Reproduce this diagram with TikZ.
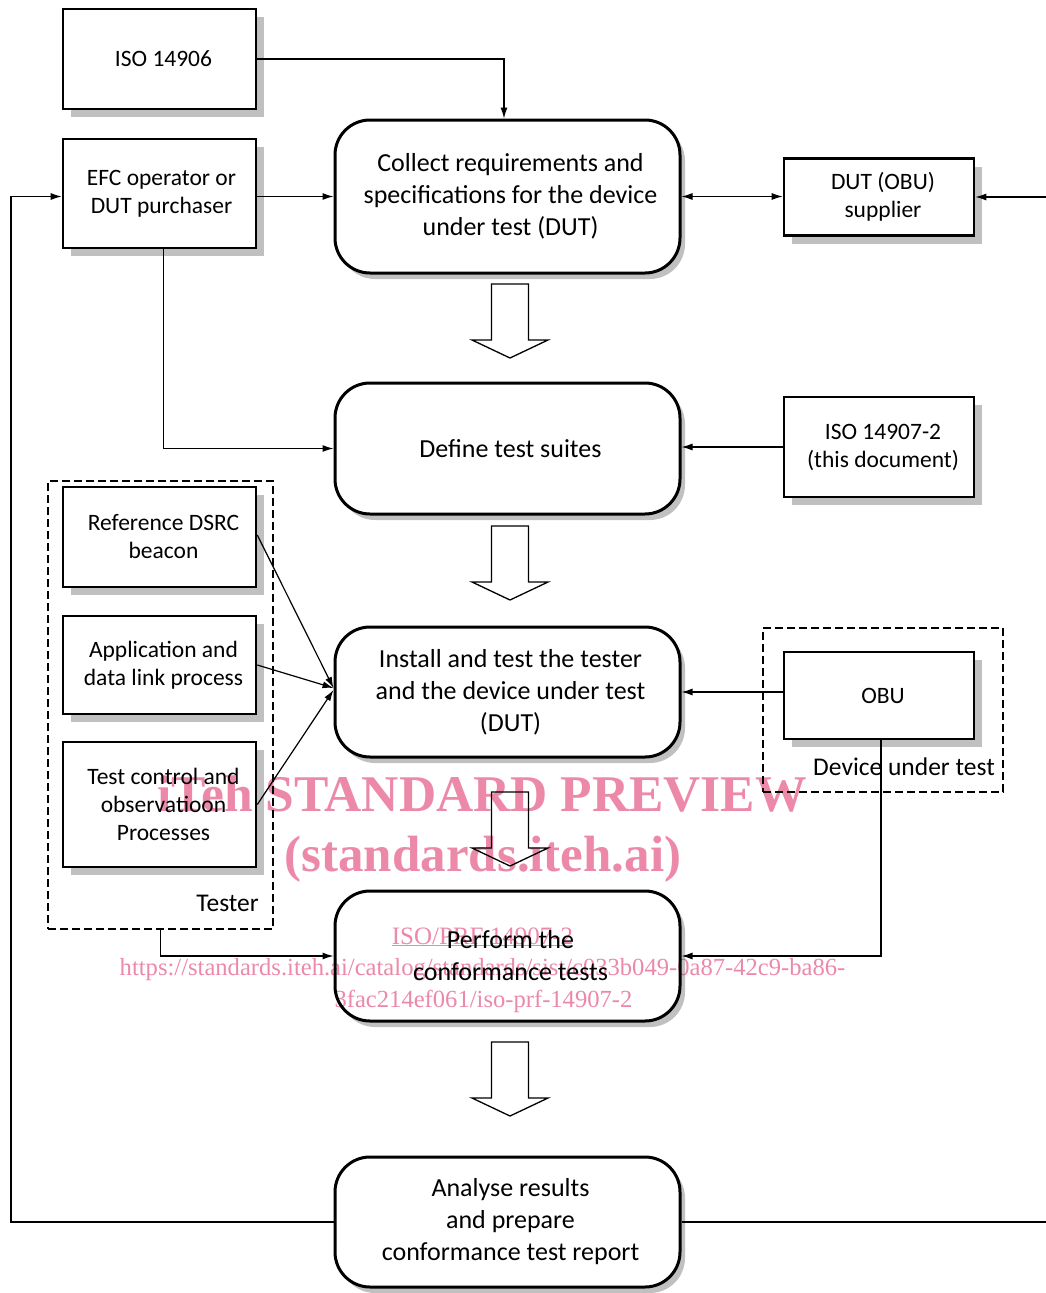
\documentclass[tikz,border=0pt]{standalone}
\usepackage{fontspec}
\setmainfont{Carlito}
\newfontfamily\wmfont{Liberation Serif}
\usetikzlibrary{arrows.meta,shadows,calc}
\definecolor{shadowgrey}{RGB}{192,192,192}
\definecolor{wmpink}{RGB}{236,137,168}
\newcommand\bigdown[1]{\draw[bigarrow] (491.5,#1) -- (528.5,#1) -- (528.5,#1+56) -- (548,#1+56) -- (510,#1+74) -- (472,#1+56) -- (491.5,#1+56) -- cycle;}
\begin{document}
\begin{tikzpicture}[x=1pt,y=-1pt,
  rbox/.style={draw, line width=2.6pt, fill=white, inner sep=0pt, align=center,
    font=\fontsize{23.5}{28}\selectfont,
    general shadow={fill=shadowgrey, shadow xshift=8pt, shadow yshift=-8pt}},
  rnd/.style={draw, line width=3pt, rounded corners=35pt, fill=white, inner sep=0pt, align=center,
    font=\fontsize{26}{32}\selectfont,
    general shadow={fill=shadowgrey, shadow xshift=5pt, shadow yshift=-6pt}},
  dashbox/.style={draw, line width=2.8pt, dash pattern=on 8pt off 4pt, inner sep=0pt},
  conn/.style={line width=1.2pt},
  arr/.style={conn, -{Latex[length=11pt,width=7pt]}},
  dblarr/.style={conn, {Latex[length=11pt,width=7pt]}-{Latex[length=11pt,width=7pt]}},
  bigarrow/.style={draw, line width=1.3pt, fill=white, line join=miter},
  lbl/.style={inner sep=0pt, font=\fontsize{25.5}{30}\selectfont},
  wm/.style={inner sep=0pt, text=wmpink}
]
\useasboundingbox (0,0) rectangle (1046,1293);

% dashed groups
\node[dashbox, minimum width=225pt, minimum height=448pt] (tester) at (160.5,705) {};
\node[dashbox, minimum width=240pt, minimum height=164pt] (dut) at (883,710) {};

% rectangular boxes
\node[rbox, minimum width=193pt, minimum height=100pt] (iso14906) at (159.5,59) {\hspace*{8pt}ISO 14906};
\node[rbox, minimum width=193pt, minimum height=109pt] (efc) at (159.5,193.5) {\hspace*{4pt}EFC operator or\\\hspace*{4pt}DUT purchaser};
\node[rbox, minimum width=190pt, minimum height=77pt] (supplier) at (879,197) {\hspace*{8pt}DUT (OBU)\\\hspace*{8pt}supplier};
\node[rbox, minimum width=190pt, minimum height=100pt] (iso149072) at (879,447) {\hspace*{8pt}ISO 14907-2\\\hspace*{8pt}(this document)};
\node[rbox, minimum width=193pt, minimum height=100pt] (refb) at (159.5,537) {\hspace*{8pt}Reference DSRC\\\hspace*{8pt}beacon};
\node[rbox, minimum width=193pt, minimum height=98pt] (app) at (159.5,665) {\hspace*{8pt}Application and\\\hspace*{8pt}data link process};
\node[rbox, minimum width=193pt, minimum height=125pt] (testc) at (159.5,804.5) {\hspace*{8pt}Test control and\\\hspace*{8pt}observatioon\\\hspace*{8pt}Processes};
\node[rbox, minimum width=190pt, minimum height=87pt] (obu) at (879,695.5) {\hspace*{8pt}OBU};

% rounded process boxes
\node[rnd, minimum width=345pt, minimum height=153pt] (collect) at (507.5,196.5) {\hspace*{6pt}Collect requirements and\\\hspace*{6pt}specifications for the device\\\hspace*{6pt}under test (DUT)};
\node[rnd, minimum width=345pt, minimum height=131pt] (define) at (507.5,448.5) {\hspace*{6pt}Define test suites};
\node[rnd, minimum width=345pt, minimum height=130pt] (install) at (507.5,692) {\hspace*{6pt}Install and test the tester\\\hspace*{6pt}and the device under test\\\hspace*{6pt}(DUT)};
\node[rnd, minimum width=345pt, minimum height=130pt] (perform) at (507.5,956) {\hspace*{6pt}Perform the\\\hspace*{6pt}conformance tests};
\node[rnd, minimum width=345pt, minimum height=130pt] (analyse) at (507.5,1222) {\hspace*{6pt}Analyse results\\\hspace*{6pt}and prepare\\\hspace*{6pt}conformance test report};

% labels
\node[lbl, anchor=east] (testerlbl) at (259,903) {Tester};
\node[lbl, anchor=east] (dutlbl) at (995,767) {Device under test};

% hollow flow arrows
\bigdown{284}
\bigdown{526}
\bigdown{792}
\bigdown{1042}

% connectors
\coordinate (rightin) at (1046,197);
\coordinate (rightout) at (1046,1222);
\coordinate (leftcorner) at (11,1222);

\draw[arr] (iso14906.east) -| ([xshift=-3.5pt]collect.north);
\draw[arr] (efc.east |- collect.west) -- (collect.west);
\draw[dblarr] (collect.east) -- (collect.east -| supplier.west);
\draw[arr] (rightin) -- (supplier.east |- rightin);
\draw[arr] ([xshift=4pt]efc.south) |- (define.west);
\draw[arr] (iso149072.west) -- (iso149072.west -| define.east);
\draw[arr] ([yshift=2pt]refb.east) -- ([yshift=4pt]install.west);
\draw[arr] (app.east) -- ([yshift=4pt]install.west);
\draw[arr] (testc.east) -- ([yshift=2pt]install.west);
\draw[arr] (obu.west |- install.east) -- (install.east);
\draw[arr] ([xshift=2pt]obu.south) |- (perform.east);
\draw[arr] (tester.south) |- (perform.west);
\draw[arr] (analyse.west) -- (leftcorner) |- ([yshift=-3pt]efc.west);
\draw[conn] (analyse.east) -- (rightout);

% watermark
\begin{scope}[blend mode=multiply]
\node[wm, anchor=base, font=\wmfont\bfseries\fontsize{51.5}{60}\selectfont] (wm1) at (482,811) {iTeh STANDARD PREVIEW};
\node[wm, anchor=base, font=\wmfont\bfseries\fontsize{51}{60}\selectfont] (wm2) at (483,871) {(standards.iteh.ai)};
\node[wm, anchor=base, font=\wmfont\fontsize{25}{31}\selectfont] (wm3) at (482.5,944) {\underline{ISO/PRF 14907-2}};
\node[wm, anchor=base, font=\wmfont\fontsize{24.6}{31}\selectfont] (wm4) at (482.5,975) {https://standards.iteh.ai/catalog/standards/sist/c033b049-0a87-42c9-ba86-};
\node[wm, anchor=base, font=\wmfont\fontsize{24.6}{31}\selectfont] (wm5) at (483.5,1007) {3fac214ef061/iso-prf-14907-2};
\end{scope}
\end{tikzpicture}
\end{document}
